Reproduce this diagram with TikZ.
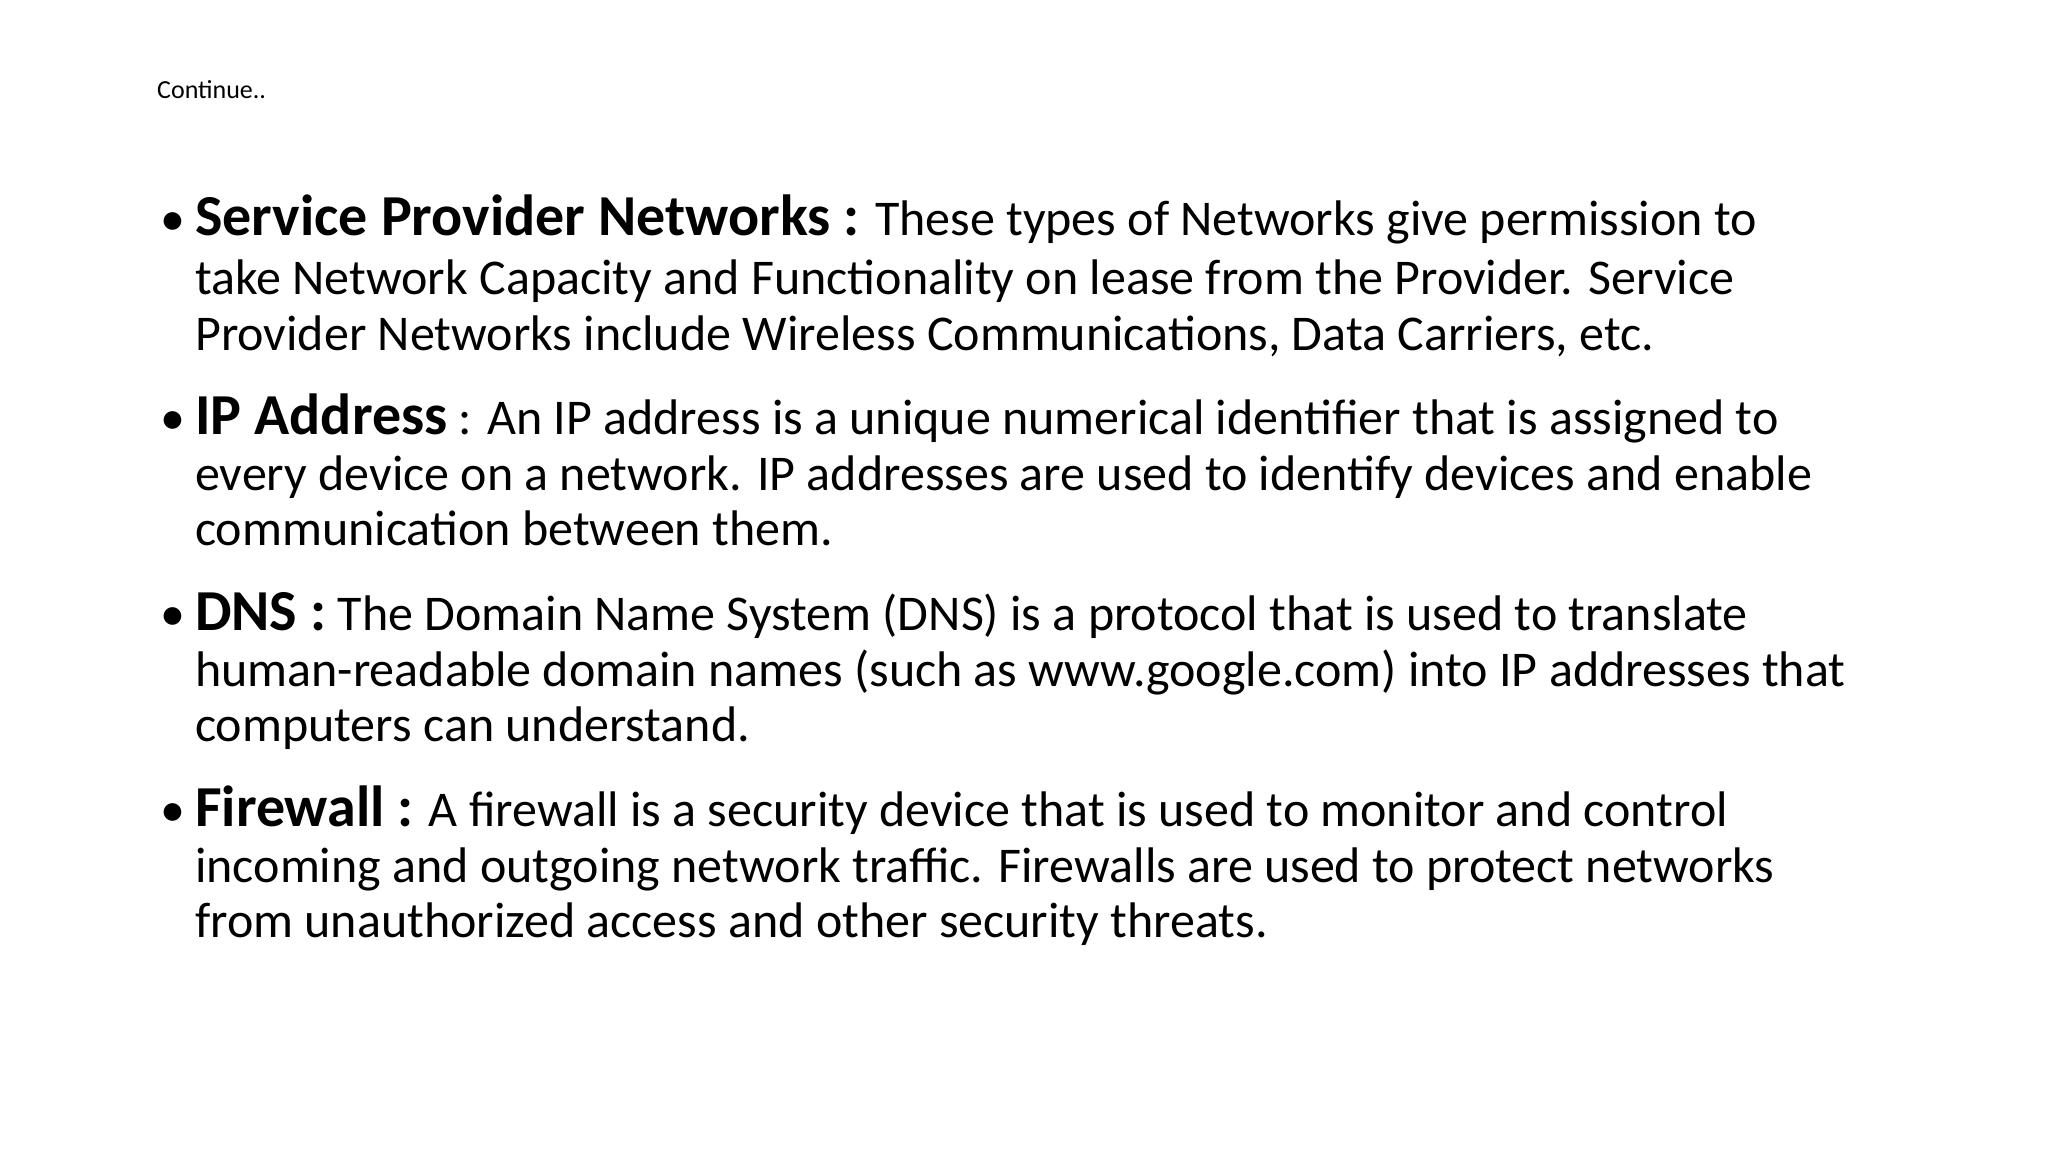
\documentclass[tikz,border=0pt]{standalone}
\usepackage{fontspec}
\setmainfont{Carlito}
\begin{document}
\begin{tikzpicture}[x=1pt,y=-1pt,
  ln/.style={anchor=base west,inner sep=0pt,font=\fontsize{50}{60}\selectfont},
  bul/.style={anchor=base west,inner sep=0pt,font=\fontsize{50}{60}\selectfont},
  term/.style={font=\fontsize{58}{60}\selectfont\bfseries}]
\useasboundingbox (0,0) rectangle (2048,1152);
\node[anchor=base west,inner sep=0pt,font=\fontsize{26}{30}\selectfont] (cont) at (157,98) {Continue..};
% bullet 1
\node[bul] (b1) at (160,235) {•};
\node[ln] (l11) at (195,235) {{\fontsize{58}{60}\selectfont\bfseries Service Provider Networks :} These types of Networks give permission to};
\node[ln] (l12) at (195,294) {take Network Capacity and Functionality on lease from the Provider. Service};
\node[ln] (l13) at (195,350) {Provider Networks include Wireless Communications, Data Carriers, etc.};
% bullet 2
\node[bul] (b2) at (160,434) {•};
\node[ln] (l21) at (195,434) {{\fontsize{58}{60}\selectfont\bfseries IP Address} : An IP address is a unique numerical identifier that is assigned to};
\node[ln] (l22) at (195,490) {every device on a network. IP addresses are used to identify devices and enable};
\node[ln] (l23) at (195,545) {communication between them.};
% bullet 3
\node[bul] (b3) at (160,630) {•};
\node[ln] (l31) at (195,630) {{\fontsize{58}{60}\selectfont\bfseries DNS :} The Domain Name System (DNS) is a protocol that is used to translate};
\node[ln] (l32) at (195,686) {human-readable domain names (such as www.google.com) into IP addresses that};
\node[ln] (l33) at (195,741) {computers can understand.};
% bullet 4
\node[bul] (b4) at (160,826) {•};
\node[ln] (l41) at (195,826) {{\fontsize{58}{60}\selectfont\bfseries Firewall :} A firewall is a security device that is used to monitor and control};
\node[ln] (l42) at (195,882) {incoming and outgoing network traffic. Firewalls are used to protect networks};
\node[ln] (l43) at (195,937) {from unauthorized access and other security threats.};
\end{tikzpicture}
\end{document}
